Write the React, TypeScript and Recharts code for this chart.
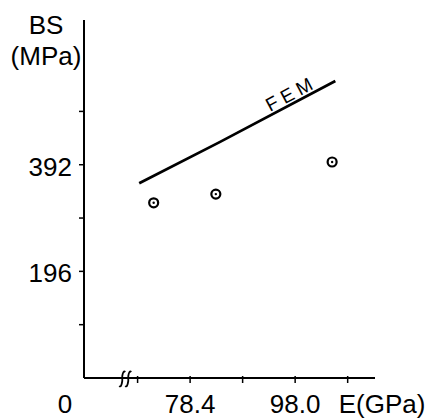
import React from 'react';
import { ComposedChart, Line, Scatter, XAxis, YAxis, ReferenceDot } from 'recharts';

// FEM prediction (line) and measured bending strength (circles)
const femE = [68.9, 84.0, 105.5];
const femBS = [358, 434, 546];
const testE = [71.6, 83.2, 104.9];
const testBS = [322, 338, 397];

const xDomain = [58.6, 112.9];
const xBreak = 66.3;
const xMinorTicks = [68.6, 88.2, 107.8];
const xMajorTicks = [78.4, 98.0];
const xOriginLabel = '0';
const xTitle = 'E(GPa)';

const yDomain = [0, 658];
const yTicks = [98, 196, 294, 392, 490];
const yLabeled = [196, 392];
const yTitle = ['BS', '(MPa)'];

const femLabel = { x: 97.25, y: 524, text: 'FEM' };

const FONT = '"Liberation Sans", Arial, Helvetica, sans-serif';

const femData = femE.map((x, i) => ({ x, y: femBS[i] }));
const testData = testE.map((x, i) => ({ x, y: testBS[i] }));
const xTicks = [xDomain[0], xBreak, ...xMinorTicks, ...xMajorTicks, xDomain[1]].sort((a, b) => a - b);

const XTick = (props: any) => {
  const { x, y, payload } = props;
  const v = payload.value;
  if (v === xBreak) {
    const s = (cx: number) =>
      `M${cx - 3},${y + 8} Q${cx - 1},${y + 10} ${cx},${y + 3} L${cx},${y - 2} Q${cx + 1},${y - 8} ${cx + 3},${y - 6}`;
    return (
      <g>
        <path d={s(x - 3)} stroke="#000" strokeWidth={1.8} fill="none" />
        <path d={s(x + 3)} stroke="#000" strokeWidth={1.8} fill="none" />
      </g>
    );
  }
  if (v === xDomain[0]) {
    return (
      <text x={x - 19} y={y + 35} textAnchor="middle" fontSize={26} fontFamily={FONT} fill="#000">
        {xOriginLabel}
      </text>
    );
  }
  if (v === xDomain[1]) {
    return (
      <text x={x + 7} y={y + 35} textAnchor="middle" fontSize={26} fontFamily={FONT} fill="#000">
        {xTitle}
      </text>
    );
  }
  const major = xMajorTicks.includes(v);
  return (
    <g>
      <line x1={x} x2={x} y1={y - 2} y2={y + 5} stroke="#000" strokeWidth={1.5} />
      {major && (
        <text x={x} y={y + 35} textAnchor="middle" fontSize={26} fontFamily={FONT} fill="#000">
          {v.toFixed(1)}
        </text>
      )}
    </g>
  );
};

const YTick = (props: any) => {
  const { x, y, payload } = props;
  const v = payload.value;
  return (
    <g>
      <line x1={x - 5} x2={x} y1={y} y2={y} stroke="#000" strokeWidth={1.5} />
      {yLabeled.includes(v) && (
        <text x={x - 12} y={y + 11} textAnchor="end" fontSize={26} fontFamily={FONT} fill="#000">
          {v}
        </text>
      )}
    </g>
  );
};

const YTitle = (props: any) => {
  const vb = props.viewBox || { x: 0, y: 20, width: 84 };
  const right = vb.x + vb.width;
  return (
    <g fontSize={26} fontFamily={FONT} fill="#000">
      <text x={right - 38} y={vb.y + 14} textAnchor="middle">{yTitle[0]}</text>
      <text x={right - 38} y={vb.y + 45} textAnchor="middle">{yTitle[1]}</text>
    </g>
  );
};

const Circle = (props: any) => {
  const { cx, cy } = props;
  return (
    <g>
      <circle cx={cx} cy={cy} r={4.5} fill="#fff" stroke="#000" strokeWidth={2.2} />
      <circle cx={cx} cy={cy} r={1.2} fill="#000" />
    </g>
  );
};

const FemText = (props: any) => {
  const { cx, cy } = props;
  return (
    <text
      x={cx}
      y={cy + 7}
      textAnchor="middle"
      fontSize={19}
      fontFamily={FONT}
      letterSpacing={5}
      fill="#000"
      transform={`rotate(-28, ${cx}, ${cy})`}
    >
      {femLabel.text}
    </text>
  );
};

export default function App() {
  return (
    <div style={{ position: 'absolute', left: 0, top: 0, background: '#fff' }}>
      <ComposedChart width={426} height={420} margin={{ top: 20, right: 51, bottom: 0, left: 0 }}>
        <XAxis
          type="number"
          dataKey="x"
          domain={xDomain}
          ticks={xTicks}
          interval={0}
          height={42}
          tickSize={0}
          tickMargin={0}
          tick={<XTick />}
          axisLine={{ stroke: '#000', strokeWidth: 2 }}
          allowDataOverflow
        />
        <YAxis
          type="number"
          dataKey="y"
          domain={yDomain}
          ticks={yTicks}
          interval={0}
          width={84}
          tickSize={0}
          tickMargin={0}
          tick={<YTick />}
          axisLine={{ stroke: '#000', strokeWidth: 2 }}
          label={(p: any) => <YTitle {...p} />}
          allowDataOverflow
        />
        <Line
          data={femData}
          dataKey="y"
          type="linear"
          stroke="#000"
          strokeWidth={2.8}
          dot={false}
          isAnimationActive={false}
        />
        <Scatter data={testData} dataKey="y" shape={<Circle />} isAnimationActive={false} />
        <ReferenceDot x={femLabel.x} y={femLabel.y} r={0} shape={(p: any) => <FemText {...p} />} />
      </ComposedChart>
    </div>
  );
}
